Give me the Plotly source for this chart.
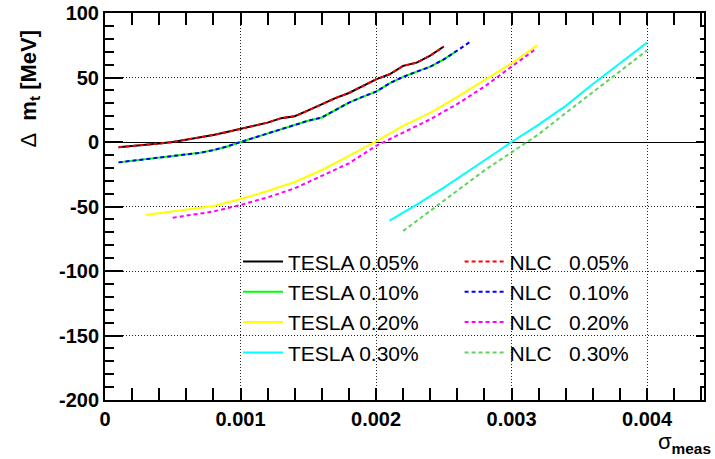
import plotly.graph_objects as go

# ---------------- data ----------------
x_t05 = [0.0001, 0.0002, 0.0003, 0.0004, 0.0005, 0.0006, 0.0007, 0.0008, 0.0009, 0.0010,
         0.0011, 0.0012, 0.0013, 0.0014, 0.0015, 0.0016, 0.0017, 0.0018, 0.0019, 0.0020,
         0.0021, 0.0022, 0.0023, 0.0024, 0.0025]
y_t05 = [-4.0, -3.2, -2.3, -1.2, 0.0, 1.7, 3.6, 5.5, 7.7, 10.0,
         12.3, 15.0, 18.5, 20.0, 24.5, 29.5, 34.0, 38.0, 43.5, 48.5,
         52.5, 59.0, 61.5, 67.0, 74.0]

x_n05 = x_t05
y_n05 = [-4.0, -3.2, -2.3, -1.2, 0.0, 1.7, 3.6, 5.5, 7.7, 10.0,
         12.3, 15.0, 18.5, 20.0, 24.5, 29.5, 34.0, 38.0, 43.5, 48.5,
         52.5, 59.0, 61.5, 67.0, 74.0]

x_t10 = [0.0001, 0.0002, 0.0003, 0.0004, 0.0005, 0.0006, 0.0007, 0.0008, 0.0009, 0.0010,
         0.0011, 0.0012, 0.0013, 0.0014, 0.0015, 0.0016, 0.0017, 0.0018, 0.0019, 0.0020,
         0.0021, 0.0022, 0.0023, 0.0024, 0.0025, 0.0026]
y_t10 = [-15.8, -14.6, -13.5, -12.2, -11.0, -9.8, -8.4, -6.3, -3.5, 0.0,
         3.2, 6.5, 9.8, 13.2, 16.5, 19.0, 24.5, 30.5, 35.0, 39.0,
         45.5, 50.5, 54.5, 58.4, 64.0, 70.8]

x_n10 = x_t10 + [0.0027]
y_n10 = y_t10 + [78.0]

x_t20 = [0.0003, 0.0006, 0.0008, 0.0010, 0.0012, 0.0014, 0.0016, 0.0018, 0.0020,
         0.0022, 0.0024, 0.0026, 0.0028, 0.0030, 0.00319]
y_t20 = [-56.6, -52.7, -49.6, -44.2, -38.0, -31.0, -21.7, -10.8, 0.5,
         12.5, 22.5, 35.0, 48.0, 61.0, 75.0]

x_n20 = [0.0005, 0.0008, 0.0010, 0.0012, 0.0014, 0.0016, 0.0018, 0.0020,
         0.0022, 0.0024, 0.0026, 0.0028, 0.0030, 0.003185]
y_n20 = [-58.7, -53.9, -48.8, -42.9, -35.9, -26.4, -16.5, -3.0,
         7.0, 17.6, 29.5, 43.0, 58.4, 72.6]

x_t30 = [0.0021, 0.0023, 0.0025, 0.0027, 0.0029, 0.0030, 0.0032, 0.0034,
         0.0035, 0.0036, 0.0038, 0.0040]
y_t30 = [-61.0, -48.6, -35.3, -21.5, -7.2, 0.0, 13.5, 28.0,
         36.5, 45.0, 61.0, 77.0]

x_n30 = [0.0022, 0.0024, 0.0026, 0.0028, 0.0030, 0.0032, 0.0034, 0.0036, 0.0038, 0.0040]
y_n30 = [-69.0, -53.3, -37.0, -22.0, -8.0, 6.0, 22.5, 38.6, 54.5, 71.0]

names_tesla = ["TESLA 0.05%", "TESLA 0.10%", "TESLA 0.20%", "TESLA 0.30%"]
names_nlc = ["NLC\u00a0\u00a0\u00a00.05%", "NLC\u00a0\u00a0\u00a00.10%",
             "NLC\u00a0\u00a0\u00a00.20%", "NLC\u00a0\u00a0\u00a00.30%"]
colors_tesla = ["#000000", "#00ff00", "#ffff00", "#00ffff"]
colors_nlc = ["#ff0000", "#0000ff", "#ff00ff", "#5fd35f"]

x_tickvals = [0, 0.001, 0.002, 0.003, 0.004]
x_ticktext = ["0", "0.001", "0.002", "0.003", "0.004"]
y_tickvals = [-200, -150, -100, -50, 0, 50, 100]
y_ticktext = ["-200", "-150", "-100", "-50", "0", "50", "100"]

x_range = [0, 0.00442]
y_range = [-200, 100]
x_tick_minor = 0.0002
y_tick_minor = 10

# ---------------- figure ----------------
FONT = "Liberation Sans, Arial, sans-serif"
fig = go.Figure()

tesla = [(x_t05, y_t05), (x_t10, y_t10), (x_t20, y_t20), (x_t30, y_t30)]
nlc = [(x_n05, y_n05), (x_n10, y_n10), (x_n20, y_n20), (x_n30, y_n30)]

for (xs, ys), nm, c in zip(tesla, names_tesla, colors_tesla):
    fig.add_trace(go.Scatter(x=xs, y=ys, mode="lines", name=nm,
                             line=dict(color=c, width=2), legend="legend"))
for (xs, ys), nm, c in zip(nlc, names_nlc, colors_nlc):
    fig.add_trace(go.Scatter(x=xs, y=ys, mode="lines", name=nm,
                             line=dict(color=c, width=2, dash="4px,3px"), legend="legend2"))

# helper trace for right-hand tick axis
fig.add_trace(go.Scatter(x=[None], y=[None], yaxis="y2", showlegend=False,
                         hoverinfo="skip"))

axis_common = dict(showline=True, linecolor="black", linewidth=2,
                   ticks="inside", tickcolor="black", tickwidth=2, automargin=False,
                   showgrid=True, gridcolor="#222222", gridwidth=1, griddash="1px,2px",
                   tickmode="array",
                   tickfont=dict(family=FONT, size=20, color="black", weight="bold"))

fig.update_layout(
    width=715, height=459,
    margin=dict(l=105, r=11, t=13, b=59, autoexpand=False),
    paper_bgcolor="white", plot_bgcolor="white",
    xaxis=dict(range=x_range, tickvals=x_tickvals, ticktext=x_ticktext, ticklen=12,
               mirror="allticks", zeroline=False,
               minor=dict(dtick=x_tick_minor, tick0=0, ticklen=6, ticks="inside",
                          tickcolor="black", tickwidth=2, showgrid=False),
               **axis_common),
    yaxis=dict(range=y_range, tickvals=y_tickvals, ticktext=y_ticktext, ticklen=18,
               mirror=True, zeroline=True, zerolinecolor="black", zerolinewidth=1,
               minor=dict(dtick=y_tick_minor, tick0=0, ticklen=9, ticks="inside",
                          tickcolor="black", tickwidth=2, showgrid=False),
               **axis_common),
    yaxis2=dict(range=y_range, overlaying="y", side="right", tickmode="array",
                tickvals=y_tickvals, ticks="inside", ticklen=8, tickwidth=2,
                tickcolor="black", automargin=False,
                showticklabels=False, showgrid=False, zeroline=False, showline=False,
                minor=dict(dtick=y_tick_minor, tick0=0, ticklen=4, ticks="inside",
                           tickcolor="black", tickwidth=2)),
    legend=dict(x=0.222, y=0.41, xanchor="left", yanchor="top", itemwidth=40,
                bgcolor="rgba(0,0,0,0)", borderwidth=0, tracegroupgap=0,
                font=dict(family=FONT, size=21, color="black")),
    legend2=dict(x=0.592, y=0.41, xanchor="left", yanchor="top", itemwidth=40,
                 bgcolor="rgba(0,0,0,0)", borderwidth=0, tracegroupgap=0,
                 font=dict(family=FONT, size=21, color="black")),
    showlegend=True,
    shapes=[dict(type="rect", xref="paper", yref="paper",
                 x0=0.212, x1=0.9566, y0=0.0904, y1=0.398,
                 fillcolor="white", line=dict(width=0), layer="between")],
    annotations=[
        dict(text="Δ\u00a0\u00a0<b>m<sub>t</sub>\u00a0[MeV]</b>", xref="paper", yref="paper",
             x=-0.125, y=0.805, xanchor="center", yanchor="middle", textangle=-90,
             showarrow=False, font=dict(family=FONT, size=22, color="black")),
        dict(text="σ<sub><b>meas</b></sub>", xref="paper", yref="paper",
             x=1.015, y=-0.152, xanchor="right", yanchor="bottom",
             showarrow=False, font=dict(family=FONT, size=22, color="black")),
    ],
)

fig.write_html("out.html")
